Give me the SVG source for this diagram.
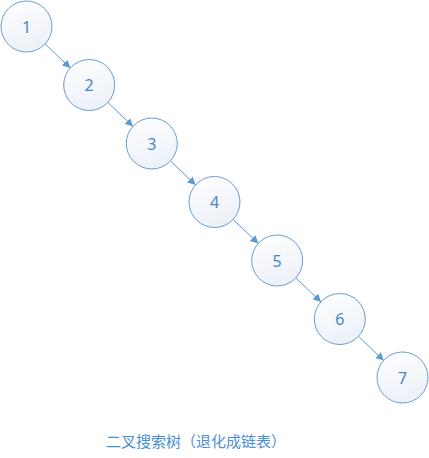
<svg xmlns="http://www.w3.org/2000/svg" width="429" height="458" viewBox="0 0 429 458">
<style>
.node circle{fill:url(#g);stroke:#6b9bd0;stroke-width:1}
.node text{font-family:"Noto Sans","Liberation Sans",sans-serif;font-size:16px;fill:#4a86c8;text-anchor:middle;dominant-baseline:central}
.edge{stroke:#5b9bd5;stroke-width:1;fill:none;marker-end:url(#arr)}
.cap{font-family:"Noto Sans CJK SC","Noto Sans",sans-serif;font-size:15px;fill:#4a8fd6;text-anchor:middle;dominant-baseline:central}
</style>
<defs>
<linearGradient id="g" x1="0" y1="0" x2="0.3" y2="1">
<stop offset="0" stop-color="#ffffff"/>
<stop offset="1" stop-color="#edf1f8"/>
</linearGradient>
<marker id="arr" viewBox="0 0 10 10" refX="10" refY="5" markerWidth="8" markerHeight="8" markerUnits="userSpaceOnUse" orient="auto">
<path d="M0,0 L10,5 L0,10 z" fill="#5b9bd5"/>
</marker>
</defs>
<rect width="429" height="458" fill="#ffffff"/>
<g id="connectors">
<line class="edge" x1="45.1" y1="43.9" x2="70.4" y2="68.1"/>
<line class="edge" x1="107.8" y1="102.4" x2="133.1" y2="126.6"/>
<line class="edge" x1="170.4" y1="160.9" x2="195.7" y2="185.1"/>
<line class="edge" x1="233.1" y1="219.4" x2="258.4" y2="243.6"/>
<line class="edge" x1="295.8" y1="277.9" x2="321.1" y2="302.1"/>
<line class="edge" x1="358.5" y1="336.4" x2="383.8" y2="360.6"/>
</g>
<g id="n1" class="node"><circle cx="26.5" cy="26.5" r="25.5"/><text x="26.5" y="26.5">1</text></g>
<g id="n2" class="node"><circle cx="89.2" cy="85" r="25.5"/><text x="89.2" y="85">2</text></g>
<g id="n3" class="node"><circle cx="151.8" cy="143.5" r="25.5"/><text x="151.8" y="143.5">3</text></g>
<g id="n4" class="node"><circle cx="214.5" cy="202" r="25.5"/><text x="214.5" y="202">4</text></g>
<g id="n5" class="node"><circle cx="277.2" cy="260.5" r="25.5"/><text x="277.2" y="260.5">5</text></g>
<g id="n6" class="node"><circle cx="339.8" cy="319" r="25.5"/><text x="339.8" y="319">6</text></g>
<g id="n7" class="node"><circle cx="402.5" cy="377.5" r="25.5"/><text x="402.5" y="377.5">7</text></g>
<text class="cap" x="196" y="440">二叉搜索树（退化成链表）</text>
</svg>
